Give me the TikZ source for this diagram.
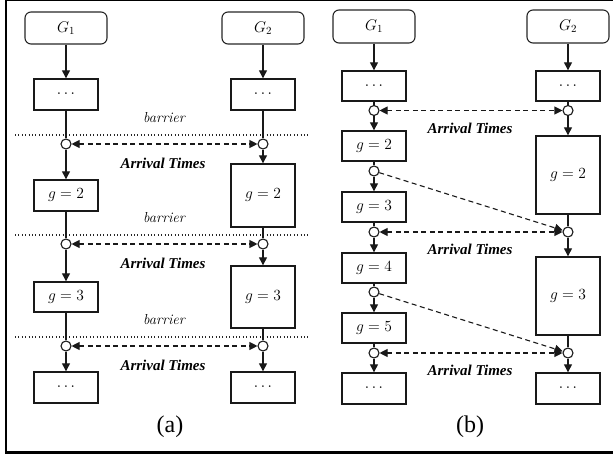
\RequirePackage{fix-cm}
\documentclass[tikz,border=0pt]{standalone}
\usepackage{fontspec}
\newfontfamily\timesfont{Liberation Serif}
\usetikzlibrary{arrows.meta}

\tikzset{
  every node/.style={font=\fontsize{15.5}{18}\selectfont},
  grpbox/.style={draw=black!85, rounded corners=6pt, line width=1.1pt, minimum width=82pt, minimum height=32pt, inner sep=0pt},
  stagebox/.style={draw=black!90, line width=1.4pt, minimum width=64pt, minimum height=30pt, inner sep=0pt},
  waitdot/.style={circle, draw=black!90, fill=white, line width=1.1pt, minimum size=10pt, inner sep=0pt},
  flow/.style={draw=black!90, line width=1.3pt},
  sync/.style={draw=black!90, line width=1.1pt, dash pattern=on 5pt off 3.5pt},
  barline/.style={draw=black!85, line width=1.1pt, dash pattern=on 0.8pt off 2.6pt},
  tip/.style={-{Triangle[length=8pt,width=8pt]}},
  tips/.style={{Triangle[length=8pt,width=8pt]}-{Triangle[length=8pt,width=8pt]}},
  barlabel/.style={font=\fontsize{14.5}{17}\selectfont\itshape},
  arrlabel/.style={font=\fontsize{15}{18}\selectfont\timesfont\bfseries\itshape},
  panlabel/.style={font=\fontsize{24}{28}\selectfont\timesfont},
}

\begin{document}
\begin{tikzpicture}[x=1pt, y=-1pt]
  \useasboundingbox (0,0) rectangle (613,454);

  % frame
  \draw[line width=1.2pt] (5,0.6) -- (613,0.6);
  \draw[line width=2.5pt] (6,0) -- (6,452.5);
  \draw[line width=3pt] (5,452.5) -- (613,452.5);

  \def\xA{66}
  \def\xB{263}
  \def\xL{374}
  \def\xR{568}

  % ── (a): barriers ────────────────────────────────────
  \foreach \yy/\yt in {135/118, 235/218, 337/320}{
    \draw[barline] (15,\yy) -- (310,\yy);
    \node[barlabel] at (164,\yt) {barrier};
  }

  \node[grpbox] (G1a) at (\xA,28) {$G_1$};
  \node[grpbox] (G2a) at (\xB,28) {$G_2$};

  \node[stagebox, minimum height=31pt] (sa1) at (\xA,94.5) {$\cdots$};
  \node[stagebox, minimum height=31pt] (sa2) at (\xA,195.5) {$g=2$};
  \node[stagebox] (sa3) at (\xA,297) {$g=3$};
  \node[stagebox, minimum height=31pt] (sa4) at (\xA,387.5) {$\cdots$};

  \node[stagebox, minimum height=31pt] (sb1) at (\xB,94.5) {$\cdots$};
  \node[stagebox, minimum height=63pt] (sb2) at (\xB,195.5) {$g=2$};
  \node[stagebox, minimum height=62pt] (sb3) at (\xB,297) {$g=3$};
  \node[stagebox, minimum height=31pt] (sb4) at (\xB,387.5) {$\cdots$};

  \node[waitdot] (ca1) at (\xA,144) {};
  \node[waitdot] (ca2) at (\xA,244) {};
  \node[waitdot] (ca3) at (\xA,346) {};
  \node[waitdot] (cb1) at (\xB,144) {};
  \node[waitdot] (cb2) at (\xB,244) {};
  \node[waitdot] (cb3) at (\xB,346) {};

  \foreach \u/\v in {G1a/sa1, ca1/sa2, ca2/sa3, ca3/sa4, G2a/sb1, cb1/sb2, cb2/sb3, cb3/sb4}{
    \draw[flow, tip] (\u) -- (\v);
  }
  \foreach \u/\v in {sa1/ca1, sa2/ca2, sa3/ca3, sb1/cb1, sb2/cb2, sb3/cb3}{
    \draw[flow] (\u) -- (\v);
  }
  \foreach \i/\yt in {1/163, 2/263, 3/365}{
    \draw[sync, tips] (ca\i) -- (cb\i);
    \node[arrlabel] (arra\i) at (163,\yt) {Arrival Times};
  }

  \node[panlabel] (pa) at (170,427) {(a)};

  % ── (b): no barriers ─────────────────────────────────
  \node[grpbox, minimum height=33pt] (G1b) at (\xL,26.5) {$G_1$};
  \node[grpbox, minimum height=33pt] (G2b) at (\xR,26.5) {$G_2$};

  \node[stagebox] (ta1) at (\xL,86) {$\cdots$};
  \node[stagebox] (ta2) at (\xL,146) {$g=2$};
  \node[stagebox] (ta3) at (\xL,207) {$g=3$};
  \node[stagebox] (ta4) at (\xL,268) {$g=4$};
  \node[stagebox] (ta5) at (\xL,328) {$g=5$};
  \node[stagebox, minimum height=31pt] (ta6) at (\xL,388.5) {$\cdots$};

  \node[stagebox] (tb1) at (\xR,86) {$\cdots$};
  \node[stagebox, minimum height=78pt] (tb2) at (\xR,175) {$g=2$};
  \node[stagebox, minimum height=78pt] (tb3) at (\xR,296) {$g=3$};
  \node[stagebox, minimum height=31pt] (tb4) at (\xR,388.5) {$\cdots$};

  \node[waitdot] (da1) at (\xL,110.5) {};
  \node[waitdot] (da2) at (\xL,171) {};
  \node[waitdot] (da3) at (\xL,232) {};
  \node[waitdot] (da4) at (\xL,292) {};
  \node[waitdot] (da5) at (\xL,353) {};
  \node[waitdot] (db1) at (\xR,110.5) {};
  \node[waitdot] (db2) at (\xR,232) {};
  \node[waitdot] (db3) at (\xR,353) {};

  \foreach \u/\v in {G1b/ta1, da1/ta2, da2/ta3, da3/ta4, da4/ta5, da5/ta6, G2b/tb1, db1/tb2, db2/tb3, db3/tb4}{
    \draw[flow, tip] (\u) -- (\v);
  }
  \foreach \u/\v in {ta1/da1, ta2/da2, ta3/da3, ta4/da4, ta5/da5, tb1/db1, tb2/db2, tb3/db3}{
    \draw[flow] (\u) -- (\v);
  }

  \draw[sync, tips] (da1) -- (db1);
  \draw[sync, tip] (da2) -- (db2);
  \draw[sync, tips] (da3) -- (db2);
  \draw[sync, tip] (da4) -- (db3);
  \draw[sync, tips] (da5) -- (db3);

  \node[arrlabel] (arrb1) at (470,128) {Arrival Times};
  \node[arrlabel] (arrb2) at (470,249) {Arrival Times};
  \node[arrlabel] (arrb3) at (470,370) {Arrival Times};

  \node[panlabel] (pb) at (470,427) {(b)};
\end{tikzpicture}
\end{document}
